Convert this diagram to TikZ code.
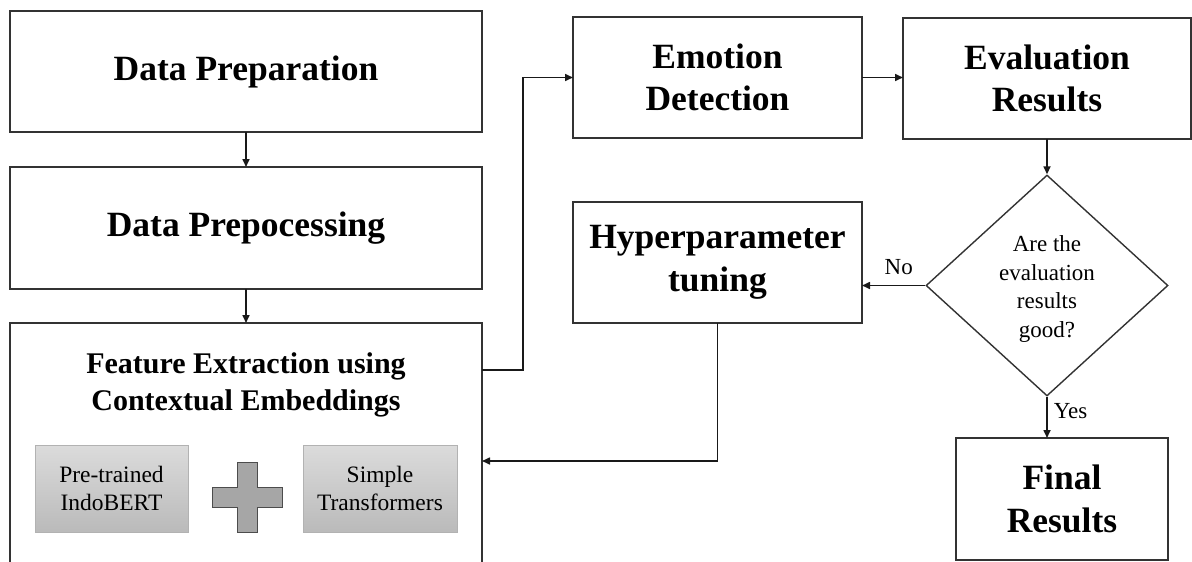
\documentclass[tikz,border=0pt]{standalone}
\usepackage{fontspec}
\setmainfont{Liberation Serif}
\usetikzlibrary{arrows.meta,shapes.geometric,calc}
\begin{document}
\begin{tikzpicture}[x=1pt,y=-1pt,
  box/.style={draw=black!80,line width=1.6pt,rectangle,inner sep=0pt,outer sep=0pt,align=center,font=\bfseries\fontsize{35.5}{42.5}\selectfont},
  graybox/.style={draw=black!30,line width=0.6pt,top color=black!14,bottom color=black!27,rectangle,inner sep=0pt,align=center,font=\fontsize{23.5}{28}\selectfont},
  small/.style={font=\fontsize{23}{28.5}\selectfont,align=center,inner sep=0pt},
  arr/.style={draw=black!90,line width=1.6pt,-{Triangle[length=8pt,width=7pt]}},
  ln/.style={draw=black!90,line width=1.6pt}]
\useasboundingbox (0,0) rectangle (1192,562);
\clip (0,0) rectangle (1192,562);
% left column
\node[box,minimum width=472pt,minimum height=121pt] (prep) at (246,71.5) {Data Preparation};
\node[box,minimum width=472pt,minimum height=122pt] (preproc) at (246,228) {Data Prepocessing};
\node[box,minimum width=472pt,minimum height=300pt] (feat) at (246,473) {};
\node[align=center,inner sep=0pt,font=\bfseries\fontsize{30}{37}\selectfont] (feattitle) at (246,385) {Feature Extraction using\\Contextual Embeddings};
\node[graybox,minimum width=153pt,minimum height=87pt] (indo) at (111.5,488.5) {Pre-trained\\IndoBERT};
\node[graybox,minimum width=154pt,minimum height=87pt] (simple) at (380,488.5) {Simple\\Transformers};
\filldraw[fill=black!35,draw=black!70,line width=0.8pt]
  (237,462) -- (257,462) -- (257,487) -- (282,487) -- (282,507) -- (257,507) -- (257,532)
  -- (237,532) -- (237,507) -- (212,507) -- (212,487) -- (237,487) -- cycle;
% right part
\node[box,minimum width=289pt,minimum height=121pt] (emo) at (717.5,77.5) {Emotion\\Detection};
\node[box,minimum width=288pt,minimum height=121pt] (eval) at (1047,78.5) {Evaluation\\Results};
\node[box,minimum width=289pt,minimum height=121pt] (hyper) at (717.5,262.5) {Hyperparameter\\tuning};
\node[draw=black!80,line width=1.4pt,diamond,minimum width=242pt,minimum height=221pt,inner sep=0pt] (dec) at (1047,285.5) {};
\node[small] (dectext) at (1047,289) {Are the\\evaluation\\results\\good?};
\node[box,minimum width=212pt,minimum height=122pt] (final) at (1062,499) {Final\\Results};
% connectors
\draw[arr] (prep.south) -- (preproc.north);
\draw[arr] (preproc.south) -- (feat.north);
\draw[arr] ([yshift=-47pt]feat.north east) -- ++(41,0) |- (emo.west);
\draw[arr] (emo.east) -- (emo.east -| eval.west);
\draw[arr] (eval.south) -- (dec.north);
\draw[arr] (dec.west) -- node[small,above=10pt,pos=0.42] (no) {No} (dec.west -| hyper.east);
\draw[arr] (dec.south) -- node[small,right=6pt,pos=0.35] (yes) {Yes} (dec.south |- final.north);
\draw[arr] (hyper.south) |- ([yshift=-138pt]feat.north east);
\end{tikzpicture}
\end{document}
